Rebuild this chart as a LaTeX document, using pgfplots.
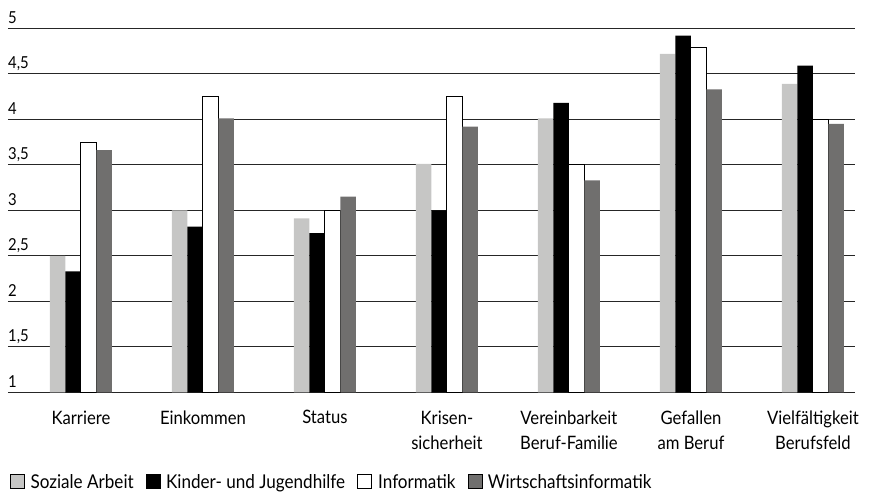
\documentclass[border=0pt]{standalone}
\usepackage{fontspec}
\setmainfont{Lato}[FakeStretch=0.9]
\usepackage{pgfplots}
\pgfplotsset{compat=1.18}
\definecolor{lgray}{RGB}{198,198,197}
\definecolor{dgray}{RGB}{112,111,110}
\begin{document}
\begin{tikzpicture}
\path[use as bounding box] (-8pt,-100.7pt) rectangle (861pt,392.3pt);
\begin{axis}[
  at={(0pt,0pt)}, anchor=south west,
  scale only axis, width=847pt, height=364pt,
  ymin=1, ymax=5, xmin=-0.598, xmax=6.345,
  ytick={1,1.5,...,5},
  xtick={0,...,6},
  xticklabels={Karriere,Einkommen,Status,{Krisen-\\sicherheit},{Vereinbarkeit\\Beruf-Familie},{Gefallen\\am Beruf},{Vielfältigkeit\\Berufsfeld}},
  /pgf/number format/assume math mode=true,
  /pgf/number format/use comma,
  yticklabel style={anchor=base west, inner sep=0pt, yshift=5pt, font=\fontsize{16.5}{18}\selectfont},
  xticklabel style={anchor=north, inner sep=0pt, yshift=-18pt, align=center, font=\fontsize{18.5}{25}\selectfont},
  major tick length=0pt,
  axis line style={draw=none},
  ymajorgrids,
  grid style={black!85, line width=1.1pt},
  ybar=0pt, bar width=15.5pt,
  legend columns=-1,
  legend style={at={(0,0)}, anchor=north west, xshift=2pt, yshift=-81pt, draw=none, fill=none, inner sep=0pt, font=\fontsize{19}{22}\selectfont,
    nodes={inner sep=0pt}, cells={anchor=base west},
    /tikz/every odd column/.append style={column sep=6pt},
    /tikz/every even column/.append style={column sep=12pt}},
  legend image code/.code={\draw[#1] (0pt,0pt) rectangle (14pt,14pt);},
]
\addplot[fill=lgray, draw=none] coordinates {(0,2.5) (1,3.0) (2,2.91) (3,3.51) (4,4.01) (5,4.72) (6,4.39)};
\addlegendentry{Soziale Arbeit}
\addplot[fill=black, draw=none] coordinates {(0,2.33) (1,2.82) (2,2.75) (3,3.0) (4,4.18) (5,4.92) (6,4.59)};
\addlegendentry{Kinder- und Jugendhilfe}
\addplot[fill=white, draw=black, line width=1pt] coordinates {(0,3.74) (1,4.25) (2,3.0) (3,4.25) (4,3.5) (5,4.79) (6,4.0)};
\addlegendentry{Informatik}
\addplot[fill=dgray, draw=none] coordinates {(0,3.66) (1,4.01) (2,3.15) (3,3.92) (4,3.33) (5,4.33) (6,3.95)};
\addlegendentry{Wirtschaftsinformatik}
\end{axis}
\end{tikzpicture}
\end{document}
